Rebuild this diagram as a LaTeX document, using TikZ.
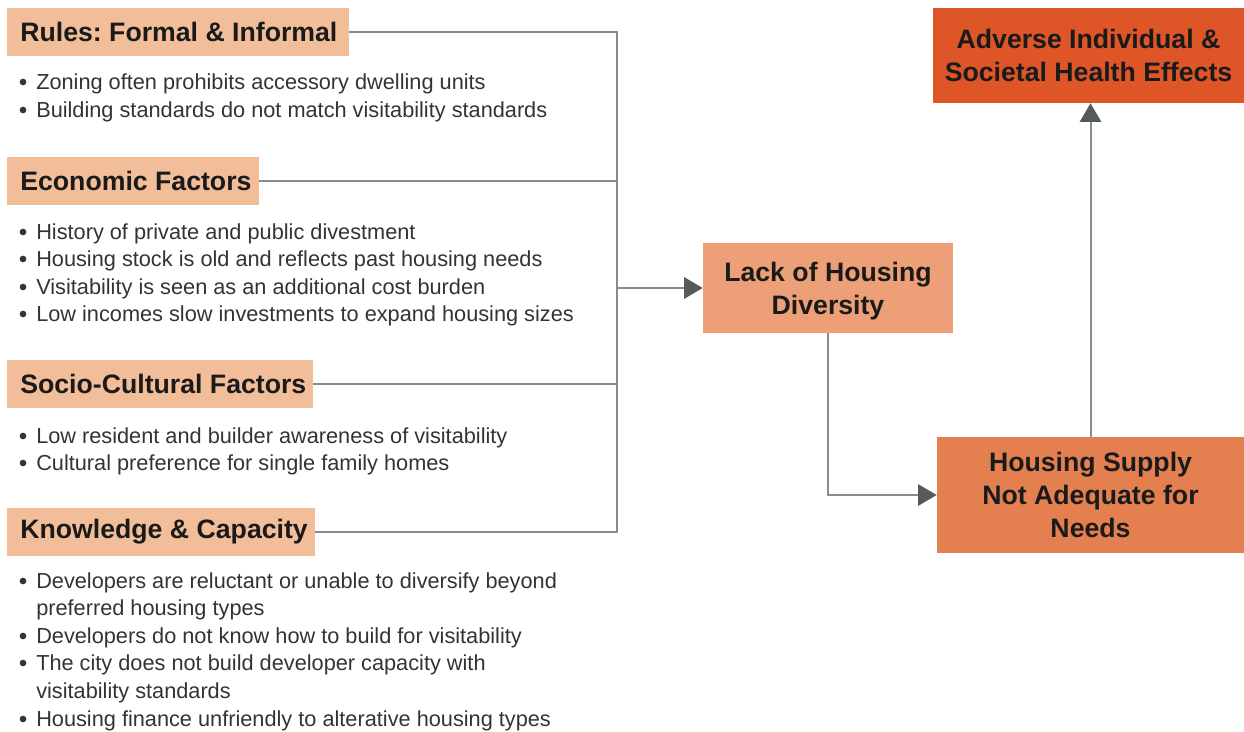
\documentclass[tikz,border=0pt]{standalone}
\usepackage{fontspec}
\setmainfont{Liberation Sans}
\newfontfamily\bodyfont{Liberation Sans}
\usetikzlibrary{arrows.meta}
\frenchspacing
\definecolor{hdr}{HTML}{F2BE9A}
\definecolor{lackc}{HTML}{EDA077}
\definecolor{supc}{HTML}{E4804F}
\definecolor{advc}{HTML}{DE5627}
\definecolor{linec}{HTML}{8A8C8C}
\definecolor{tipc}{HTML}{555A5A}
\definecolor{bodyc}{HTML}{333333}
\definecolor{ink}{HTML}{1A1A1A}
\newcommand{\hlab}[2]{\makebox[#1][l]{#2}}
\tikzset{
  hbox/.style={rectangle, fill=hdr, minimum height=36pt, inner xsep=10pt, inner ysep=0pt,
    font=\fontsize{20}{24}\selectfont\bfseries, text=ink},
  bbox/.style={rectangle, minimum height=#1, inner sep=2pt, align=center, text depth=0pt,
    font=\fontsize{20}{24.75}\selectfont\bfseries, text=ink},
  item/.style={anchor=mid west, inner sep=0pt, font=\bodyfont\fontsize{16.3}{20}\selectfont, text=bodyc},
  dot/.style={circle, fill=bodyc, inner sep=0pt, minimum size=5pt},
  conn/.style={draw=linec, line width=1.5pt},
  arr/.style={conn, -{Triangle[length=14pt,width=16pt,fill=tipc,color=tipc]}},
}
\begin{document}
\begin{tikzpicture}[x=0.75pt,y=-0.75pt]
\useasboundingbox (0,0) rectangle (1244,731);
% header boxes
\node[hbox, minimum width=256.5pt] (rules) at (178,32) {\hlab{236.5pt}{Rules: Formal \& Informal}};
\node[hbox, minimum width=189pt] (econ) at (133,181) {\hlab{169pt}{Economic Factors}};
\node[hbox, minimum width=229.5pt] (socio) at (160,384) {\hlab{209.5pt}{Socio-Cultural Factors}};
\node[hbox, minimum width=231pt] (know) at (161,532) {\hlab{211pt}{Knowledge \& Capacity}};
% right boxes
\node[bbox=67.5pt, fill=lackc, minimum width=187.5pt] (lack) at (828,288) {Lack of Housing\\Diversity};
\node[bbox=87pt, fill=supc, minimum width=230.25pt, text depth=-3.5pt] (supply) at (1090.5,495) {Housing Supply\\Not Adequate for\\Needs};
\node[bbox=71.25pt, fill=advc, minimum width=233.25pt, text depth=-3pt] (adverse) at (1088.5,55.5) {Adverse Individual \&\\Societal Health Effects};
% bullets
\foreach \y/\t [count=\i] in {82/Zoning often prohibits accessory dwelling units,
  110/Building standards do not match visitability standards,
  232/History of private and public divestment,
  259/Housing stock is old and reflects past housing needs,
  287/Visitability is seen as an additional cost burden,
  314/Low incomes slow investments to expand housing sizes,
  436/Low resident and builder awareness of visitability,
  463/Cultural preference for single family homes,
  581/Developers are reluctant or unable to diversify beyond,
  636/Developers do not know how to build for visitability,
  663/The city does not build developer capacity with,
  719/Housing finance unfriendly to alterative housing types}{
  \node[dot] (b\i) at (23,\y) {};
  \node[item] (t\i) at (36,\y+4) {\t};
}
\node[item] (c1) at (36,612) {preferred housing types};
\node[item] (c2) at (36,695) {visitability standards};
% connectors
\coordinate (j1) at (617,32);
\coordinate (j2) at (617,181);
\coordinate (j3) at (617,384);
\coordinate (j4) at (617,532);
\coordinate (jm) at (617,288);
\draw[conn] (rules.east) -- (j1) -- (j4) -- (know.east);
\draw[conn] (econ.east) -- (j2);
\draw[conn] (socio.east) -- (j3);
\draw[arr] (jm) -- (lack.west);
\draw[arr] (lack.south) |- (supply.west);
\draw[arr] (supply.north) -- (supply.north |- adverse.south);
\end{tikzpicture}
\end{document}
